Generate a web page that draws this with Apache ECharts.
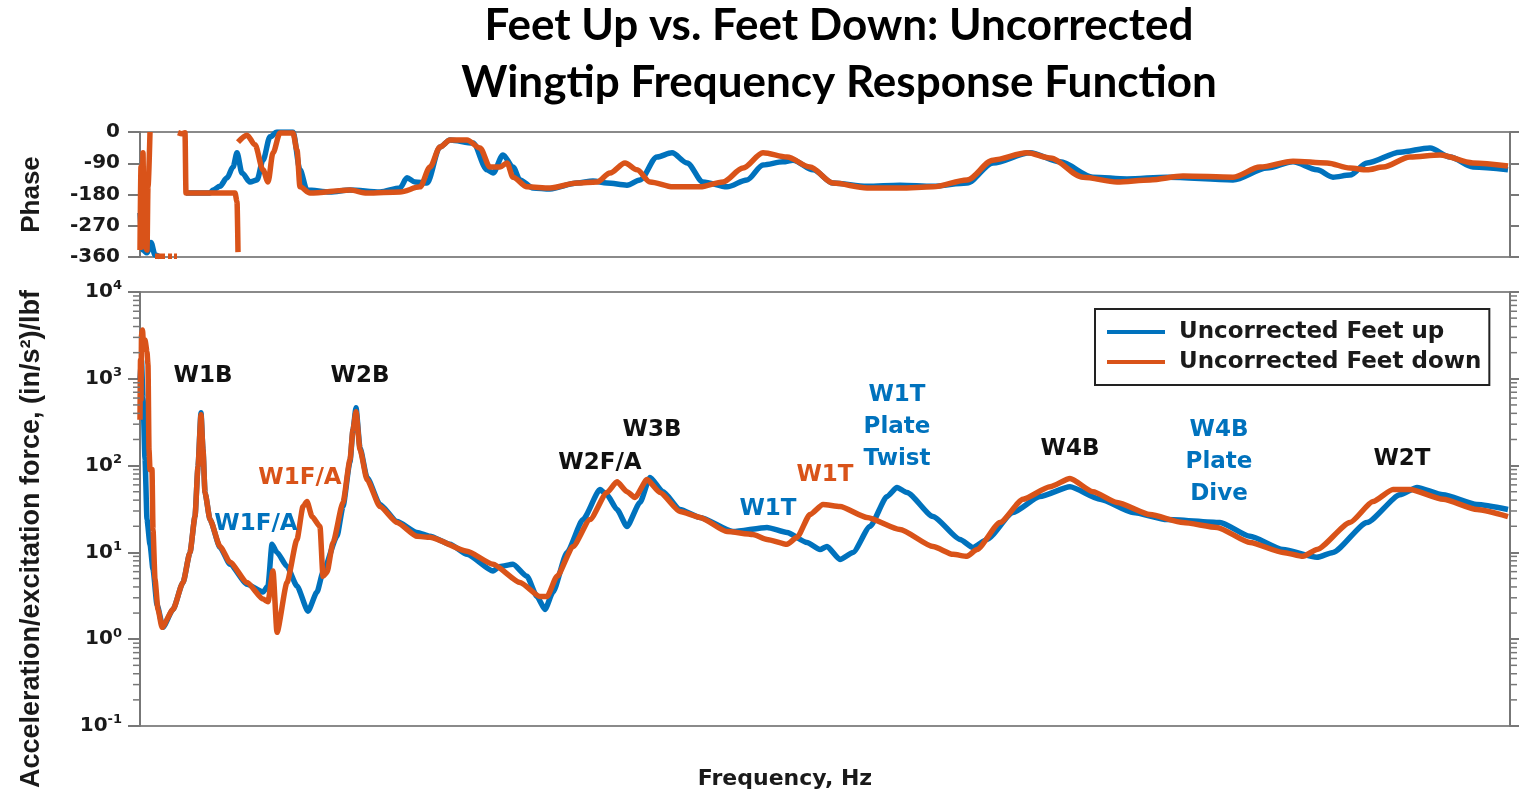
<!DOCTYPE html>
<html>
<head>
<meta charset="utf-8">
<script src="https://cdn.jsdelivr.net/npm/echarts@6/dist/echarts.min.js"></script>
<style>
  html, body { margin: 0; padding: 0; background: #fff; }
  #chart { width: 1519px; height: 795px; }
</style>
</head>
<body>
<div id="chart"></div>
<script>
// frequency axis is unlabeled in the source, so x is in arbitrary units (0..137)
const upColor = '#0072BD';
const downColor = '#D95319';

// phase, degrees  ([freq, phase], null = break in the trace)
const phaseUp = [
  [0, -233], [0.3, -340], [0.7, -348], [1.1, -318], [1.5, -354], [2.0, -360], null,
  [4.6, -176], [7.0, -176], [7.3, -167], [8.0, -156], [8.7, -132], [9.3, -101], [9.7, -60],
  [10.2, -118], [11.0, -144], [11.7, -138], [12.3, -81], [13.0, -14], [13.7, 0], [15.3, 0],
  [16.0, -109], [16.7, -167], [19.0, -173], [21.0, -167], [24.0, -173], [26.0, -161], [26.7, -132],
  [27.5, -144], [28.7, -147], [30.0, -43], [31.0, -23], [33.3, -32], [34.7, -109], [35.3, -118],
  [36.3, -66], [37.3, -101], [38.0, -138], [39.3, -161], [41.0, -164], [43.7, -147], [45.3, -141],
  [46.7, -147], [48.7, -153], [50.0, -138], [51.7, -72], [53.2, -60], [54.7, -89], [56.3, -144],
  [58.7, -158], [60.7, -138], [62.3, -95], [64.3, -86], [65.3, -81], [67.3, -109], [69.3, -147],
  [72.7, -156], [76.0, -153], [79.3, -156], [82.7, -147], [85.3, -89], [89.0, -60], [92.0, -86],
  [95.3, -130], [98.7, -135], [102.7, -130], [109.3, -138], [112.7, -104], [115.3, -86],
  [117.7, -109], [119.3, -130], [121.0, -124], [122.7, -89], [126.0, -58], [129.0, -46],
  [131.0, -72], [133.3, -101], [136.8, -109]
];
const phaseDown = [
  [0, -340], [0.1, -100], [0.2, -330], [0.3, -60], [0.4, -320], [0.7, -340], [0.8, -158], [1.0, 0], null,
  [1.5, -358], [2.5, -358], null, [2.8, -358], [3.2, -358], null, [3.4, -358], [3.7, -358], null,
  [3.8, -2], [4.2, -5], [4.5, -2], [4.6, -176], [6.0, -176], [9.5, -176], [9.7, -200], [9.8, -346], null,
  [9.8, -29], [10.7, -9], [11.5, -37], [12.3, -109], [12.8, -144], [13.3, -60], [14.0, -3], [15.3, -3],
  [15.7, -52], [16.0, -158], [17.0, -176], [21.0, -167], [22.7, -176], [26.0, -173], [28.0, -158],
  [29.0, -101], [30.0, -43], [31.0, -23], [32.7, -23], [34.0, -46], [35.0, -101], [36.0, -101],
  [36.7, -89], [37.3, -130], [38.7, -158], [41.0, -161], [43.7, -147], [45.7, -144], [47.0, -118],
  [48.5, -89], [49.7, -109], [51.0, -144], [53.3, -158], [56.0, -158], [58.3, -144], [60.3, -104],
  [62.3, -60], [64.7, -72], [67.0, -101], [69.3, -147], [72.7, -161], [76.0, -161], [79.3, -158],
  [82.7, -138], [85.3, -81], [88.7, -60], [91.0, -75], [94.3, -130], [97.7, -144], [101.0, -138],
  [104.3, -127], [109.3, -130], [112.0, -101], [115.3, -84], [118.7, -89], [121.0, -104],
  [122.7, -109], [124.3, -101], [127.0, -72], [130.0, -66], [133.3, -89], [136.8, -98]
];

// magnitude, (in/s^2)/lbf
const magUp = [
  [0, 975], [0.15, 1650], [0.3, 600], [0.5, 120], [0.7, 23.9], [1.0, 12.4], [1.3, 6.4], [1.7, 2.5],
  [2.3, 1.37], [3.3, 2.2], [4.3, 4.5], [5.0, 10], [5.5, 25.9], [5.8, 97], [6.1, 407], [6.3, 153],
  [6.5, 49], [7.0, 23.9], [8.0, 11.4], [9.0, 7.3], [10.7, 4.3], [12.3, 3.5], [12.8, 4.1], [13.2, 12.4],
  [13.7, 10.0], [14.7, 6.9], [15.7, 4.1], [16.8, 2.1], [17.7, 3.5], [18.3, 5.9], [19.7, 15.3],
  [20.3, 33.8], [21.0, 111], [21.3, 259], [21.6, 464], [22.0, 161], [22.7, 73], [24.0, 35.6],
  [25.7, 22.7], [27.7, 17.0], [29.0, 15.3], [31.0, 12.4], [32.7, 9.5], [35.3, 6.1], [36.0, 6.9],
  [37.3, 7.3], [38.7, 5.3], [39.7, 3.1], [40.5, 2.2], [41.3, 3.5], [42.7, 10.0], [44.3, 23.9],
  [46.0, 53], [46.7, 46], [47.7, 31.2], [48.7, 19.9], [50.0, 37.6], [51.0, 73], [52.3, 50],
  [54.0, 31.2], [56.0, 25.3], [59.3, 17.4], [62.7, 19.4], [64.7, 17.0], [66.7, 13.0], [68.0, 10.8],
  [68.7, 11.7], [70.0, 8.3], [71.3, 10.0], [73.0, 19.9], [74.7, 44], [75.7, 56], [76.7, 49],
  [79.3, 25.9], [82.0, 14.1], [83.3, 11.4], [84.7, 14.1], [87.3, 28.8], [90.0, 44], [93.0, 57],
  [96.0, 41], [99.3, 28.8], [102.7, 23.9], [108.0, 22.1], [111.0, 15.3], [114.3, 10.8],
  [117.7, 8.8], [119.3, 10.0], [122.7, 22.1], [126.0, 46], [127.7, 56], [130.3, 46], [133.7, 35.6],
  [136.8, 31.2]
];
const magDown = [
  [0, 338], [0.05, 1650], [0.1, 575], [0.15, 3200], [0.25, 3660], [0.35, 2460], [0.5, 2800],
  [0.7, 2040], [0.8, 1450], [0.9, 153], [1.0, 90], [1.2, 90], [1.3, 18.4], [1.5, 4.9], [1.8, 2.2],
  [2.2, 1.37], [3.3, 2.2], [4.3, 4.5], [5.0, 10], [5.5, 25.9], [5.8, 97], [6.1, 386], [6.3, 153],
  [6.5, 49], [7.0, 23.9], [8.0, 11.7], [9.0, 7.7], [10.7, 4.5], [12.3, 2.9], [12.8, 2.7], [13.3, 6.1],
  [13.7, 1.2], [14.7, 4.5], [15.7, 14.1], [16.3, 33.8], [16.7, 38.5], [17.2, 25.9], [18.0, 19.9],
  [18.3, 5.3], [18.7, 5.9], [19.3, 13.0], [20.3, 37.6], [21.0, 117], [21.3, 259], [21.6, 418],
  [22.0, 153], [22.7, 69], [24.0, 33.8], [25.7, 22.1], [27.7, 15.3], [29.0, 14.9], [32.7, 10.3],
  [35.3, 7.3], [38.0, 4.5], [40.0, 3.1], [40.7, 3.1], [41.7, 5.3], [43.3, 11.7], [45.0, 23.9],
  [46.7, 49], [47.7, 65], [48.7, 50], [49.5, 43], [50.7, 69], [52.0, 49], [54.0, 29.6], [56.0, 25.3],
  [58.7, 17.4], [61.3, 16.1], [62.7, 14.1], [64.7, 12.4], [65.7, 14.9], [67.0, 27.3], [68.3, 35.6],
  [70.0, 33.8], [72.7, 25.3], [76.0, 18.4], [79.3, 11.7], [81.3, 9.5], [82.7, 9.0], [83.7, 10.8],
  [86.0, 22.1], [88.3, 41], [91.0, 57], [93.0, 71], [95.3, 50], [97.7, 37.6], [101.0, 27.3],
  [104.3, 22.1], [107.7, 19.4], [111.0, 13.0], [114.3, 10.0], [116.3, 9.0], [117.7, 10.8],
  [121.0, 22.1], [123.3, 38.5], [125.3, 53], [127.0, 53], [130.3, 41], [133.7, 31.2], [136.8, 25.9]
];

// mode labels
const annText = ['W1B', 'W2B', 'W1F/A', 'W1F/A', 'W2F/A', 'W3B', 'W1T', 'W1T',
  'W1T\nPlate\nTwist', 'W4B', 'W4B\nPlate\nDive', 'W2T'];
const annPos = [[6.3, 1082], [22.0, 1082], [16.0, 71], [11.6, 21.5], [46.0, 108], [51.2, 259],
  [62.8, 32], [68.5, 77], [75.7, 281], [93.0, 157], [107.9, 111], [126.2, 120]];
const annColor = ['#111', '#111', downColor, upColor, '#111', '#111', upColor, downColor,
  upColor, '#111', upColor, '#111'];

const phaseTicks = [0, -90, -180, -270, -360];
const minorTicks = [0.2, 0.3, 0.4, 0.5, 0.6, 0.7, 0.8, 0.9, 2, 3, 4, 5, 6, 7, 8, 9,
  20, 30, 40, 50, 60, 70, 80, 90, 200, 300, 400, 500, 600, 700, 800, 900,
  2000, 3000, 4000, 5000, 6000, 7000, 8000, 9000];

const chart = echarts.init(document.getElementById('chart'));

const txt = { fontFamily: 'DejaVu Sans', fontWeight: 'bold', color: '#1a1a1a' };
const toPts = arr => arr.map(p => (p ? p : ['-', '-']));

const xBase = {
  type: 'value', min: 0, max: 137,
  axisLine: { show: false }, axisTick: { show: false },
  axisLabel: { show: false }, splitLine: { show: false }
};
const tickStyle = { show: true, length: 12, inside: false, lineStyle: { color: '#777', width: 2 } };
const lineAxis = { show: true, lineStyle: { color: '#777', width: 2 } };

const logLabel = {
  ...txt, fontSize: 20, margin: 18,
  formatter: v => '{b|10}{s|' + Math.round(Math.log10(v)) + '}',
  rich: {
    b: { ...txt, fontSize: 20 },
    s: { ...txt, fontSize: 13, padding: [0, 0, 12, 0] }
  }
};

const lineSeries = (name, color, data, xi, yi, smooth) => ({
  name, type: 'line', xAxisIndex: xi, yAxisIndex: yi,
  data, showSymbol: false, connectNulls: false,
  smooth, smoothMonotone: 'x',
  lineStyle: { color, width: 5.5 }, itemStyle: { color }
});

const option = {
  animation: false,
  backgroundColor: '#fff',
  title: {
    text: 'Feet Up vs. Feet Down: Uncorrected\nWingtip Frequency Response Function',
    left: 834, top: -8, textAlign: 'center',
    textStyle: {
      fontFamily: 'Lato', fontWeight: 'bold', fontSize: 44, lineHeight: 57, color: '#000'
    }
  },
  legend: {
    data: ['Uncorrected Feet up', 'Uncorrected Feet down'],
    orient: 'vertical', left: 1095, top: 309,
    padding: [10, 8, 10, 12], itemGap: 4,
    itemWidth: 58, itemHeight: 4, icon: 'rect',
    borderColor: '#222', borderWidth: 2, borderRadius: 0, backgroundColor: '#fff',
    textStyle: { ...txt, fontSize: 23, lineHeight: 26, padding: [0, 0, 0, 9] }
  },
  grid: [
    { left: 140, right: 9, top: 132, height: 125, show: true, borderColor: '#8a8a8a', borderWidth: 2 },
    { left: 140, right: 9, top: 292, height: 435, show: true, borderColor: '#8a8a8a', borderWidth: 2 }
  ],
  xAxis: [
    { ...xBase, gridIndex: 0 },
    {
      ...xBase, gridIndex: 1,
      name: 'Frequency, Hz', nameLocation: 'middle', nameGap: 42,
      nameTextStyle: { ...txt, fontSize: 22, padding: [0, 80, 0, 0] }
    }
  ],
  yAxis: [
    {
      gridIndex: 0, type: 'value', min: -360, max: 0, interval: 90, position: 'left',
      axisLine: lineAxis, axisTick: tickStyle, splitLine: { show: false },
      axisLabel: { ...txt, fontSize: 20, margin: 20, customValues: phaseTicks },
      name: 'Phase', nameLocation: 'middle', nameGap: 95, nameRotate: 90,
      nameTextStyle: { fontFamily: 'Liberation Sans', fontWeight: 'bold', fontSize: 26, color: '#1a1a1a' }
    },
    {
      gridIndex: 0, type: 'value', min: -360, max: 0, interval: 90, position: 'right',
      axisLine: lineAxis, axisTick: tickStyle, splitLine: { show: false }, axisLabel: { show: false }
    },
    {
      gridIndex: 1, type: 'log', logBase: 10, min: 0.1, max: 10000, position: 'left',
      axisLine: lineAxis, axisTick: tickStyle, splitLine: { show: false },
      axisLabel: logLabel,
      name: 'Acceleration/excitation force, (in/s²)/lbf', nameLocation: 'middle', nameGap: 95, nameRotate: 90,
      nameTextStyle: {
        fontFamily: 'Liberation Sans', fontWeight: 'bold', fontSize: 27, color: '#1a1a1a',
        padding: [0, 60, 0, 0]
      }
    },
    {
      gridIndex: 1, type: 'log', logBase: 10, min: 0.1, max: 10000, position: 'right',
      axisLine: lineAxis, axisTick: tickStyle, splitLine: { show: false }, axisLabel: { show: false }
    }
  ],
  series: [
    lineSeries('Uncorrected Feet up', upColor, toPts(phaseUp), 0, 0, 0.3),
    lineSeries('Uncorrected Feet down', downColor, toPts(phaseDown), 0, 0, 0.3),
    lineSeries('Uncorrected Feet up', upColor, magUp, 1, 2, 0.2),
    lineSeries('Uncorrected Feet down', downColor, magDown, 1, 2, 0.2),
    {
      // minor log ticks on both sides of the magnitude panel
      type: 'custom', xAxisIndex: 1, yAxisIndex: 2, silent: true, clip: false, z: 5,
      data: minorTicks.map(v => [0, v]),
      renderItem: (params, api) => {
        const l = api.coord([0, api.value(1)]);
        const r = api.coord([137, api.value(1)]);
        const st = { stroke: '#777', lineWidth: 1.5 };
        return {
          type: 'group', children: [
            { type: 'line', shape: { x1: l[0] - 7, y1: l[1], x2: l[0], y2: l[1] }, style: st },
            { type: 'line', shape: { x1: r[0], y1: r[1], x2: r[0] + 7, y2: r[1] }, style: st }
          ]
        };
      }
    },
    {
      type: 'scatter', xAxisIndex: 1, yAxisIndex: 2, symbolSize: 0, silent: true, z: 6,
      itemStyle: { opacity: 1 },
      data: annPos.map((p, i) => ({
        value: p,
        label: {
          show: true, position: 'inside', formatter: annText[i],
          ...txt, color: annColor[i], fontSize: 23, lineHeight: 32, align: 'center', opacity: 1
        }
      }))
    }
  ]
};

chart.setOption(option);
</script>
</body>
</html>
